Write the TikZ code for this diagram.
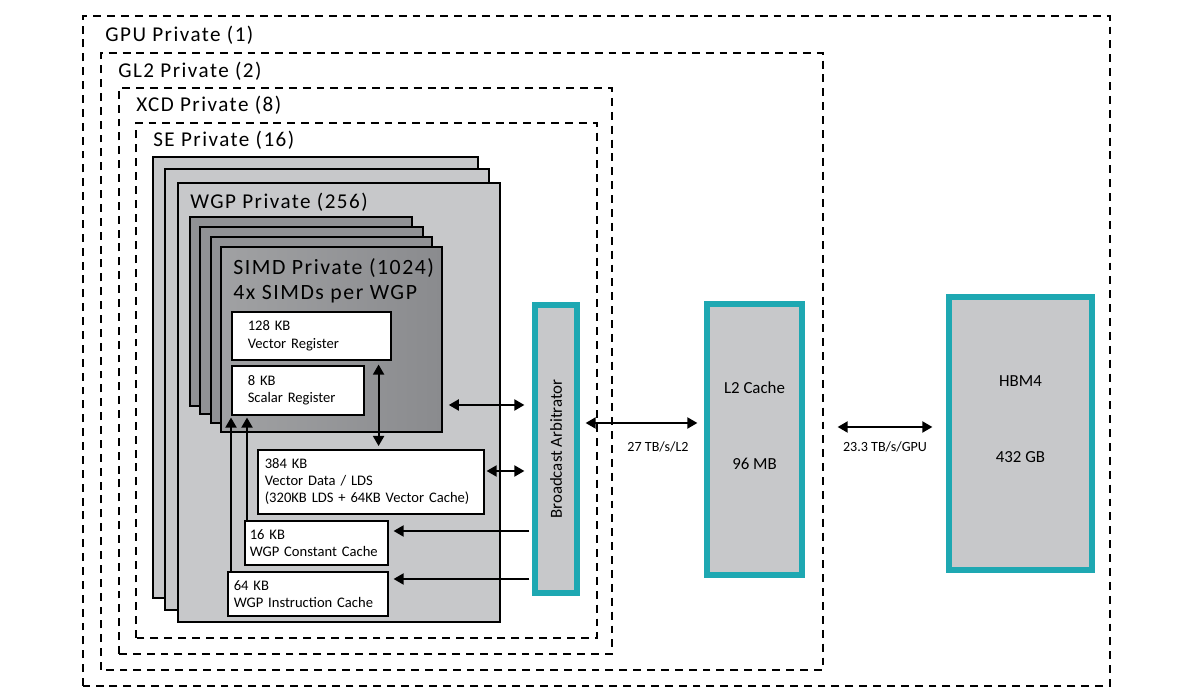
\documentclass[tikz,border=0pt]{standalone}
\usepackage{fontspec}
\setmainfont{Carlito}
\newfontfamily\headfont[LetterSpace=7]{Carlito}
\usetikzlibrary{arrows.meta}
\definecolor{wgpgray}{RGB}{199,200,202}
\definecolor{simdgray}{RGB}{145,146,149}
\definecolor{simdlight}{RGB}{160,161,163}
\definecolor{simddark}{RGB}{138,139,142}
\definecolor{amdteal}{RGB}{30,168,178}
\begin{document}
\begin{tikzpicture}[
  privbox/.style={draw, dash pattern=on 4.5pt off 3.4pt, line width=0.85pt},
  privlabel/.style={anchor=west, inner sep=0pt, font=\headfont\fontsize{12}{14}\selectfont},
  wgpbox/.style={draw, fill=wgpgray, line width=0.9pt},
  simdbox/.style={draw, fill=simdgray, line width=0.9pt},
  membox/.style={draw, fill=white, line width=0.9pt, anchor=north west, align=left,
    inner ysep=0pt, font=\fontsize{8.3}{9.7}\selectfont},
  tealbox/.style={draw=amdteal, fill=wgpgray, line width=3pt, inner sep=0pt},
  tealtext/.style={font=\fontsize{9.6}{11}\selectfont, inner sep=0pt},
  rate/.style={font=\fontsize{8}{9}\selectfont, inner sep=0pt},
  dbl/.style={{Triangle[length=0.2cm,width=0.22cm]}-{Triangle[length=0.2cm,width=0.22cm]}, line width=1.1pt},
  feed/.style={-{Triangle[length=0.2cm,width=0.22cm]}, line width=1.1pt}
]
\useasboundingbox (0,0) rectangle (24,13.98);

\draw[privbox] (1.66,0.26) rectangle (22.2,13.66);
\draw[privbox] (2.02,0.58) rectangle (16.46,12.92);
\draw[privbox] (2.38,0.90) rectangle (12.24,12.22);
\draw[privbox] (2.72,1.22) rectangle (11.94,11.52);
\node[privlabel] (gpulbl) at (2.10,13.28) {GPU Private (1)};
\node[privlabel] (gl2lbl) at (2.36,12.56) {GL2 Private (2)};
\node[privlabel] (xcdlbl) at (2.72,11.88) {XCD Private (8)};
\node[privlabel] (selbl) at (3.06,11.18) {SE Private (16)};

\draw[wgpbox] (3.06,2.02) rectangle (9.56,10.84);
\draw[wgpbox] (3.30,1.78) rectangle (9.78,10.60);
\draw[wgpbox] (3.56,1.54) rectangle (10.00,10.32);
\node[privlabel] (wgplbl) at (3.80,9.94) {WGP Private (256)};

\draw[simdbox] (3.80,5.86) rectangle (8.24,9.64);
\draw[simdbox] (4.00,5.70) rectangle (8.46,9.44);
\draw[simdbox] (4.22,5.52) rectangle (8.64,9.24);
\node[draw, line width=0.9pt, left color=simdlight, right color=simddark, inner sep=0pt,
  minimum width=4.42cm, minimum height=3.70cm] (simd) at (6.63,7.19) {};
\node[privlabel, font=\headfont\fontsize{12.4}{15}\selectfont] (simdlbl) at (4.66,8.62) {SIMD Private (1024)};
\node[privlabel, font=\headfont\fontsize{12.4}{15}\selectfont] (simdcnt) at (4.66,8.10) {4x SIMDs per WGP};

\node[membox, text width=2.54cm, inner xsep=0.32cm, minimum height=0.96cm] (vreg) at (4.62,7.76) {128 KB\\Vector Register};
\node[membox, text width=2.00cm, inner xsep=0.32cm, minimum height=0.98cm] (sreg) at (4.62,6.68) {8 KB\\Scalar Register};
\node[membox, text width=4.24cm, inner xsep=0.14cm, minimum height=1.28cm] (lds) at (5.14,5.00) {384 KB\\Vector Data / LDS\\(320KB LDS + 64KB Vector Cache)};
\node[membox, text width=2.66cm, inner xsep=0.10cm, minimum height=0.88cm] (ccache) at (4.88,3.58) {16 KB\\WGP Constant Cache};
\node[membox, text width=2.96cm, inner xsep=0.12cm, minimum height=0.88cm] (icache) at (4.54,2.56) {64 KB\\WGP Instruction Cache};

\node[tealbox, minimum width=0.84cm, minimum height=5.76cm] (ba) at (11.12,5.00) {};
\node[tealtext, rotate=90] (balbl) at (ba.center) {Broadcast Arbitrator};
\node[tealbox, minimum width=1.90cm, minimum height=5.42cm] (l2) at (15.09,5.19) {};
\node[tealtext] (l2name) at ([yshift=1.03cm]l2.center) {L2 Cache};
\node[tealtext] (l2size) at ([yshift=-0.49cm]l2.center) {96 MB};
\node[tealbox, minimum width=2.86cm, minimum height=5.46cm] (hbm) at (20.41,5.31) {};
\node[tealtext] (hbmname) at ([yshift=1.05cm]hbm.center) {HBM4};
\node[tealtext] (hbmsize) at ([yshift=-0.47cm]hbm.center) {432 GB};

\draw[dbl, shorten <=0.08cm, shorten >=0.06cm] ([xshift=-0.26cm]vreg.south east) -- ([xshift=-0.26cm]vreg.south east |- lds.north);
\draw[dbl, shorten <=0.12cm, shorten >=0.16cm] (simd.east |- 0,5.88) -- (ba.west |- 0,5.88);
\draw[dbl, shorten <=0.04cm, shorten >=0.16cm] (lds.east |- 0,4.56) -- (ba.west |- 0,4.56);
\draw[feed, shorten <=0.06cm, shorten >=0.10cm] (ba.west |- 0,3.36) -- (ccache.east |- 0,3.36);
\draw[feed, shorten <=0.06cm, shorten >=0.10cm] (ba.west |- 0,2.40) -- (icache.east |- 0,2.40);
\draw[feed, shorten >=0.04cm] (sreg.south west |- icache.north) -- (sreg.south west);
\draw[feed, shorten >=0.04cm] ([xshift=0.32cm]sreg.south west |- ccache.north) -- ([xshift=0.32cm]sreg.south west);

\draw[dbl, shorten <=0.12cm, shorten >=0.14cm] (ba.east |- 0,5.52) -- (l2.west |- 0,5.52);
\draw[dbl, shorten <=0.66cm, shorten >=0.28cm] (l2.east |- 0,5.44) -- (hbm.west |- 0,5.44);
\node[rate] (l2rate) at (13.16,5.04) {27 TB/s/L2};
\node[rate] (hbmrate) at (17.70,5.04) {23.3 TB/s/GPU};
\end{tikzpicture}
\end{document}
